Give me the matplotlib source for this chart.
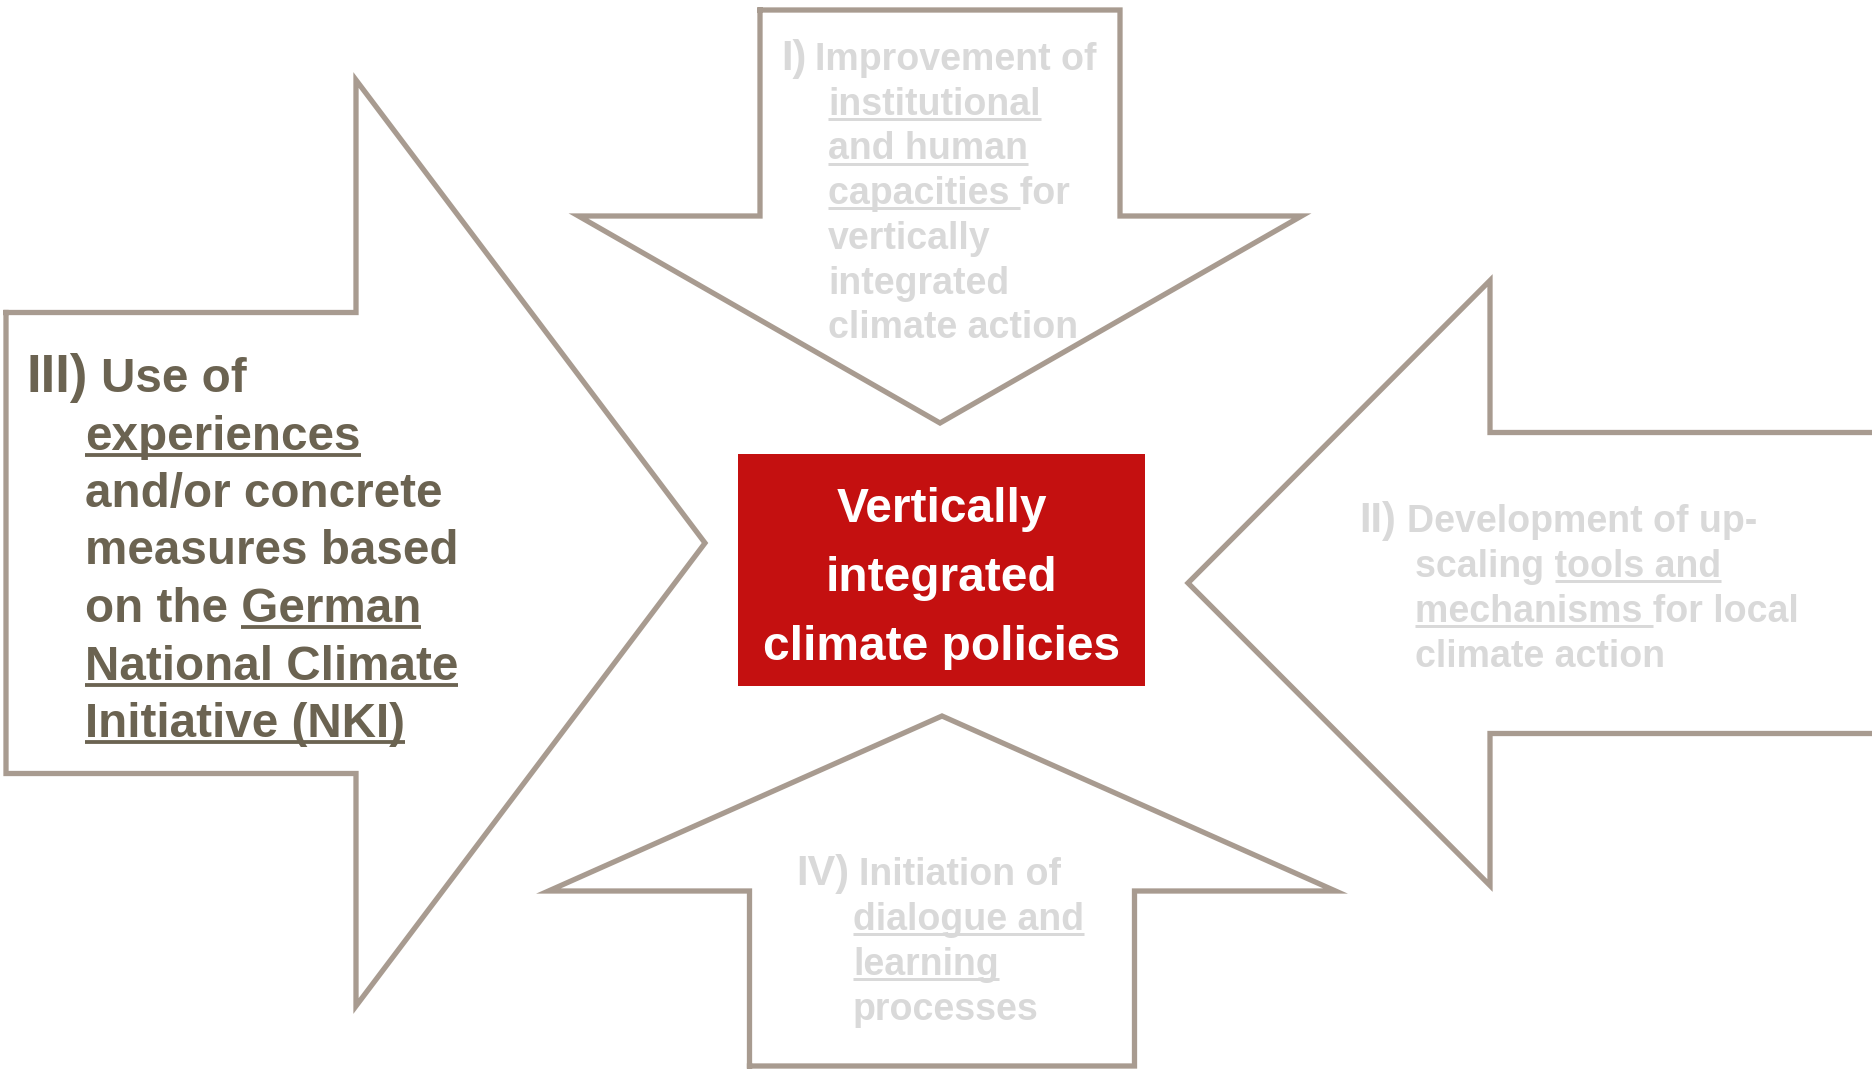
import matplotlib
matplotlib.use('Agg')
import matplotlib.pyplot as plt
from matplotlib.font_manager import FontProperties

W, H = 1872, 1069
DPI = 100

# Colours
BORDER = '#a89b90'
DARK = '#6b6351'
LIGHT = '#d9d9d9'
RED = '#c41010'

# Texts of the four arrows: each line is a list of (text, underlined)
numerals = ['I)', 'II)', 'III)', 'IV)']
lines_I = [
    [('Improvement of', False)],
    [('institutional', True)],
    [('and human', True)],
    [('capacities ', True), ('for', False)],
    [('vertically', False)],
    [('integrated', False)],
    [('climate action', False)],
]
lines_II = [
    [('Development of up-', False)],
    [('scaling ', False), ('tools and', True)],
    [('mechanisms ', True), ('for local', False)],
    [('climate action', False)],
]
lines_III = [
    [('Use of', False)],
    [('experiences', True)],
    [('and/or concrete', False)],
    [('measures based', False)],
    [('on the ', False), ('German', True)],
    [('National Climate', True)],
    [('Initiative (NKI)', True)],
]
lines_IV = [
    [('Initiation of', False)],
    [('dialogue and', True)],
    [('learning', True)],
    [('processes', False)],
]
center_lines = ['Vertically', 'integrated', 'climate policies']

fig = plt.figure(figsize=(W / DPI, H / DPI), dpi=DPI)
ax = fig.add_axes([0, 0, 1, 1])
ax.set_xlim(0, W)
ax.set_ylim(H, 0)
ax.axis('off')
renderer = fig.canvas.get_renderer()


def arrow(tip, direction, head_base, head_half, shaft_half, shaft_end, close=True):
    # direction: 'right', 'left', 'down', 'up'; coordinates in pixels
    tx, ty = tip
    if direction in ('right', 'left'):
        c = ty
        pts = [(shaft_end, c - shaft_half), (head_base, c - shaft_half),
               (head_base, c - head_half), (tx, ty),
               (head_base, c + head_half), (head_base, c + shaft_half),
               (shaft_end, c + shaft_half)]
    else:
        c = tx
        pts = [(c - shaft_half, shaft_end), (c - shaft_half, head_base),
               (c - head_half, head_base), (tx, ty),
               (c + head_half, head_base), (c + shaft_half, head_base),
               (c + shaft_half, shaft_end)]
    if close:
        pts.append(pts[0])
    xs, ys = zip(*pts)
    ax.plot(xs, ys, color=BORDER, lw=3.8, solid_joinstyle='miter',
            solid_capstyle='projecting', zorder=1)


def width(s, size):
    fp = FontProperties(family='Liberation Sans', weight='bold', size=size)
    w, h, d = renderer.get_text_width_height_descent(s, fp, ismath=False)
    return w


def draw_line(x0, y, segs, size, color):
    full = ''.join(t for t, u in segs)
    ax.text(x0, y, full, fontsize=size, fontfamily='Liberation Sans',
            fontweight='bold', color=color, va='baseline', ha='left', zorder=3)
    wf = width(full, size)
    em = size * DPI / 72
    for i, (t, u) in enumerate(segs):
        if not u:
            continue
        rest = ''.join(tt for tt, uu in segs[i:])
        after = ''.join(tt for tt, uu in segs[i + 1:])
        xs = x0 + wf - width(rest, size)
        xe = x0 + wf - (width(after, size) if after else 0)
        if i == 0:
            xs = x0
        uy = y + 0.115 * em
        ax.plot([xs, xe], [uy, uy], color=color, lw=0.08 * em * 72 / DPI,
                solid_capstyle='butt', zorder=3)


def block(numeral, lines, x_num, y0, step, indent, size, num_size, color, gap):
    ax.text(x_num, y0, numeral, fontsize=num_size, fontfamily='Liberation Sans',
            fontweight='bold', color=color, va='baseline', ha='left', zorder=3)
    x_first = x_num + width(numeral, num_size) + gap
    for k, segs in enumerate(lines):
        x = x_first if k == 0 else indent
        draw_line(x, y0 + k * step, segs, size, color)


# Arrows
arrow((705, 543), 'right', 356, 463, 230.5, 6)
arrow((940, 423), 'down', 216, 361.5, 180, 10)
arrow((1188, 583), 'left', 1490, 302.5, 150.5, 1900, close=False)
arrow((942, 716), 'up', 891, 393.5, 192.5, 1066)

# Texts in arrows
block(numerals[2], lines_III, 26, 392, 57.5, 85, 34.3, 38, DARK, 14)
block(numerals[0], lines_I, 781, 70, 44.7, 828, 27, 30, LIGHT, 9)
block(numerals[1], lines_II, 1359, 532, 45, 1415, 27, 30, LIGHT, 11)
block(numerals[3], lines_IV, 796, 885, 45, 853, 27, 30, LIGHT, 10)

# Central red box
ax.add_patch(plt.Rectangle((738, 454), 407, 232, facecolor=RED,
                           edgecolor='none', zorder=2))
for k, s in enumerate(center_lines):
    ax.text(941.5, 522 + k * 69, s, fontsize=34.5, fontfamily='Liberation Sans',
            fontweight='bold', color='white', va='baseline', ha='center',
            zorder=3)

plt.savefig('out.png', dpi=DPI, facecolor='white')
